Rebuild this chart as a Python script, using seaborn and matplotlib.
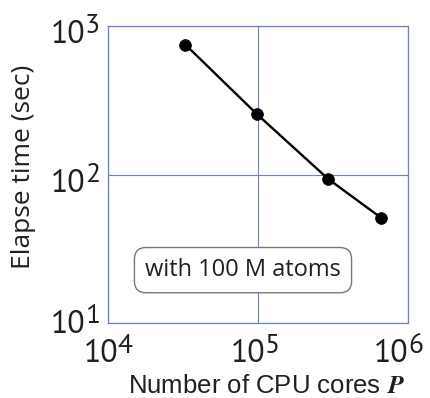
import math
import matplotlib
matplotlib.use("Agg")
import matplotlib.pyplot as plt
import seaborn as sns
import pandas as pd
from matplotlib.ticker import FixedLocator, NullFormatter, NullLocator
from matplotlib.font_manager import FontProperties, fontManager
from matplotlib.textpath import TextPath

cores = [32768, 98304, 294912, 663552]
elapse = [750, 255, 93, 51]
x_ticks = [1e4, 1e5, 1e6]
y_ticks = [1e1, 1e2, 1e3]
note = "with 100 M atoms"
xlabel = "Number of CPU cores "
ylabel = "Elapse time (sec)"

sns.set_theme(style="white")
plt.rcParams['font.family'] = ['Open Sans', 'DejaVu Sans']
plt.rcParams['mathtext.fontset'] = 'stix'

available = {f.name for f in fontManager.ttflist}
pref = ["Source Sans Pro", "PT Sans", "Fira Sans", "Open Sans"]
tick_family = next(n for n in pref if n in available)
fp = FontProperties(family=tick_family)
ext = TextPath((0, 0), "10", size=1, prop=fp).get_extents()
unit_h = ext.height

P = 0.72  # px -> pt
main_fs = 23 * P / unit_h
exp_fs = 20 * P / unit_h

df = pd.DataFrame({"cores": cores, "elapse": elapse})

fig = plt.figure(figsize=(4.3, 3.98), dpi=100)
ax = fig.add_axes([108/430, 1-323/398, 300/430, 297/398])
sns.lineplot(data=df, x="cores", y="elapse", ax=ax, color="black", lw=1.7,
             marker="o", markersize=8.5, markeredgecolor="black", markeredgewidth=0.5)
ax.set_xscale("log")
ax.set_yscale("log")
ax.set_xlim(x_ticks[0], x_ticks[-1])
ax.set_ylim(y_ticks[0], y_ticks[-1])

gc = "#7080bc"
for s in ax.spines.values():
    s.set_color(gc)
    s.set_linewidth(0.9)
ax.xaxis.set_major_locator(FixedLocator(x_ticks))
ax.yaxis.set_major_locator(FixedLocator(y_ticks))
ax.xaxis.set_minor_locator(NullLocator())
ax.yaxis.set_minor_locator(NullLocator())
ax.xaxis.set_major_formatter(NullFormatter())
ax.yaxis.set_major_formatter(NullFormatter())
ax.grid(True, which="major", color=gc, lw=0.8)
ax.tick_params(axis="both", length=0)

tfont = dict(family=tick_family, color="#231f20")

# x tick labels: "10" + raised exponent
x_shift = [10, 7, 0]
for i, v in enumerate(x_ticks):
    e = int(round(math.log10(v)))
    b = x_shift[i]
    ax.annotate("10", xy=(v, 0), xycoords=ax.get_xaxis_transform(),
                xytext=(b*P, -39*P), textcoords="offset points",
                ha="right", va="baseline", fontsize=main_fs, **tfont)
    ax.annotate(str(e), xy=(v, 0), xycoords=ax.get_xaxis_transform(),
                xytext=(b*P, -30*P), textcoords="offset points",
                ha="left", va="baseline", fontsize=exp_fs, **tfont)

# y tick labels
y_drop = [10, 18, 17]
for i, v in enumerate(y_ticks):
    e = int(round(math.log10(v)))
    d = y_drop[i]
    ax.annotate("10", xy=(0, v), xycoords=ax.get_yaxis_transform(),
                xytext=(-23*P, -d*P), textcoords="offset points",
                ha="right", va="baseline", fontsize=main_fs, **tfont)
    ax.annotate(str(e), xy=(0, v), xycoords=ax.get_yaxis_transform(),
                xytext=(-23*P, -(d-10)*P), textcoords="offset points",
                ha="left", va="baseline", fontsize=exp_fs, **tfont)

ax.set_xlabel(xlabel + "$\\boldsymbol{P}$", fontsize=18.5, color="#231f20",
              family="Liberation Sans", va="baseline")
ax.xaxis.set_label_coords((266.5-108)/300, (323-393)/297)
ax.set_ylabel(ylabel, fontsize=19, color="#231f20", va="center")
ax.yaxis.set_label_coords((23-108)/300, (323-166.5)/297)

ax.text(0.45, 0.178, note, transform=ax.transAxes, ha="center", va="center",
        fontsize=17, color="#231f20",
        bbox=dict(boxstyle="round,pad=0.45,rounding_size=0.5", fc="white", ec="#777777", lw=1.0))

fig.savefig("out.png", dpi=100)
